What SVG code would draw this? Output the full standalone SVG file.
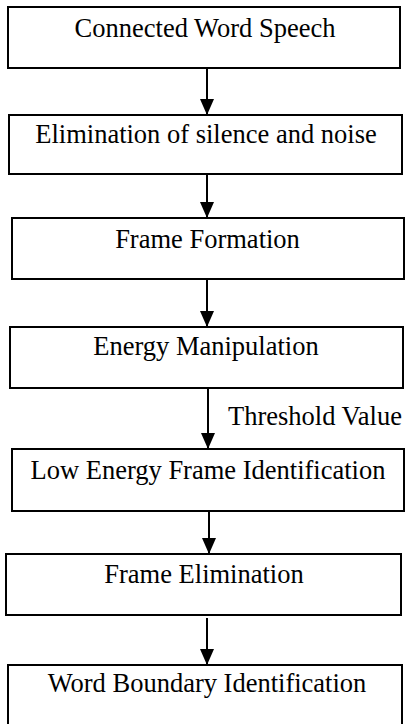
<svg xmlns="http://www.w3.org/2000/svg" width="405" height="724" viewBox="0 0 405 724">
<style>
.box{fill:#fff;stroke:#000;stroke-width:2}
.lbl{font-family:"Liberation Serif","Times New Roman",serif;font-size:26.5px;fill:#000;text-anchor:middle}
.edge{stroke:#000;stroke-width:2;fill:none;marker-end:url(#ah)}
</style>
<defs>
<marker id="ah" viewBox="0 0 16 14" refX="16" refY="7" markerWidth="16" markerHeight="14" markerUnits="userSpaceOnUse" orient="auto">
<path d="M0,0 L16,7 L0,14 z" fill="#000"/>
</marker>
</defs>
<rect width="405" height="724" fill="#fff"/>
<g id="n1"><rect class="box" x="8" y="7" width="392" height="61"/><text class="lbl" x="205" y="37">Connected Word Speech</text></g>
<g id="n2"><rect class="box" x="9" y="115" width="393" height="59"/><text class="lbl" x="206" y="143">Elimination of silence and noise</text></g>
<g id="n3"><rect class="box" x="12" y="218" width="392" height="61"/><text class="lbl" x="207.5" y="248">Frame Formation</text></g>
<g id="n4"><rect class="box" x="10" y="327" width="393" height="61"/><text class="lbl" x="206" y="355">Energy Manipulation</text></g>
<g id="n5"><rect class="box" x="12" y="449" width="392" height="62"/><text class="lbl" x="208" y="479">Low Energy Frame Identification</text></g>
<g id="n6"><rect class="box" x="6" y="554" width="395" height="61"/><text class="lbl" x="204" y="583">Frame Elimination</text></g>
<g id="n7"><rect class="box" x="8" y="665" width="394" height="65"/><text class="lbl" x="207" y="692">Word Boundary Identification</text></g>
<g id="edges">
<line class="edge" x1="207" y1="68" x2="207" y2="115"/>
<line class="edge" x1="207" y1="174" x2="207" y2="218"/>
<line class="edge" x1="207" y1="279" x2="207" y2="327"/>
<line class="edge" x1="208" y1="388" x2="208" y2="449"/>
<text class="lbl" x="228" y="425" style="text-anchor:start">Threshold Value</text>
<line class="edge" x1="209" y1="511" x2="209" y2="554"/>
<line class="edge" x1="207" y1="618" x2="207" y2="665"/>
</g>
</svg>
